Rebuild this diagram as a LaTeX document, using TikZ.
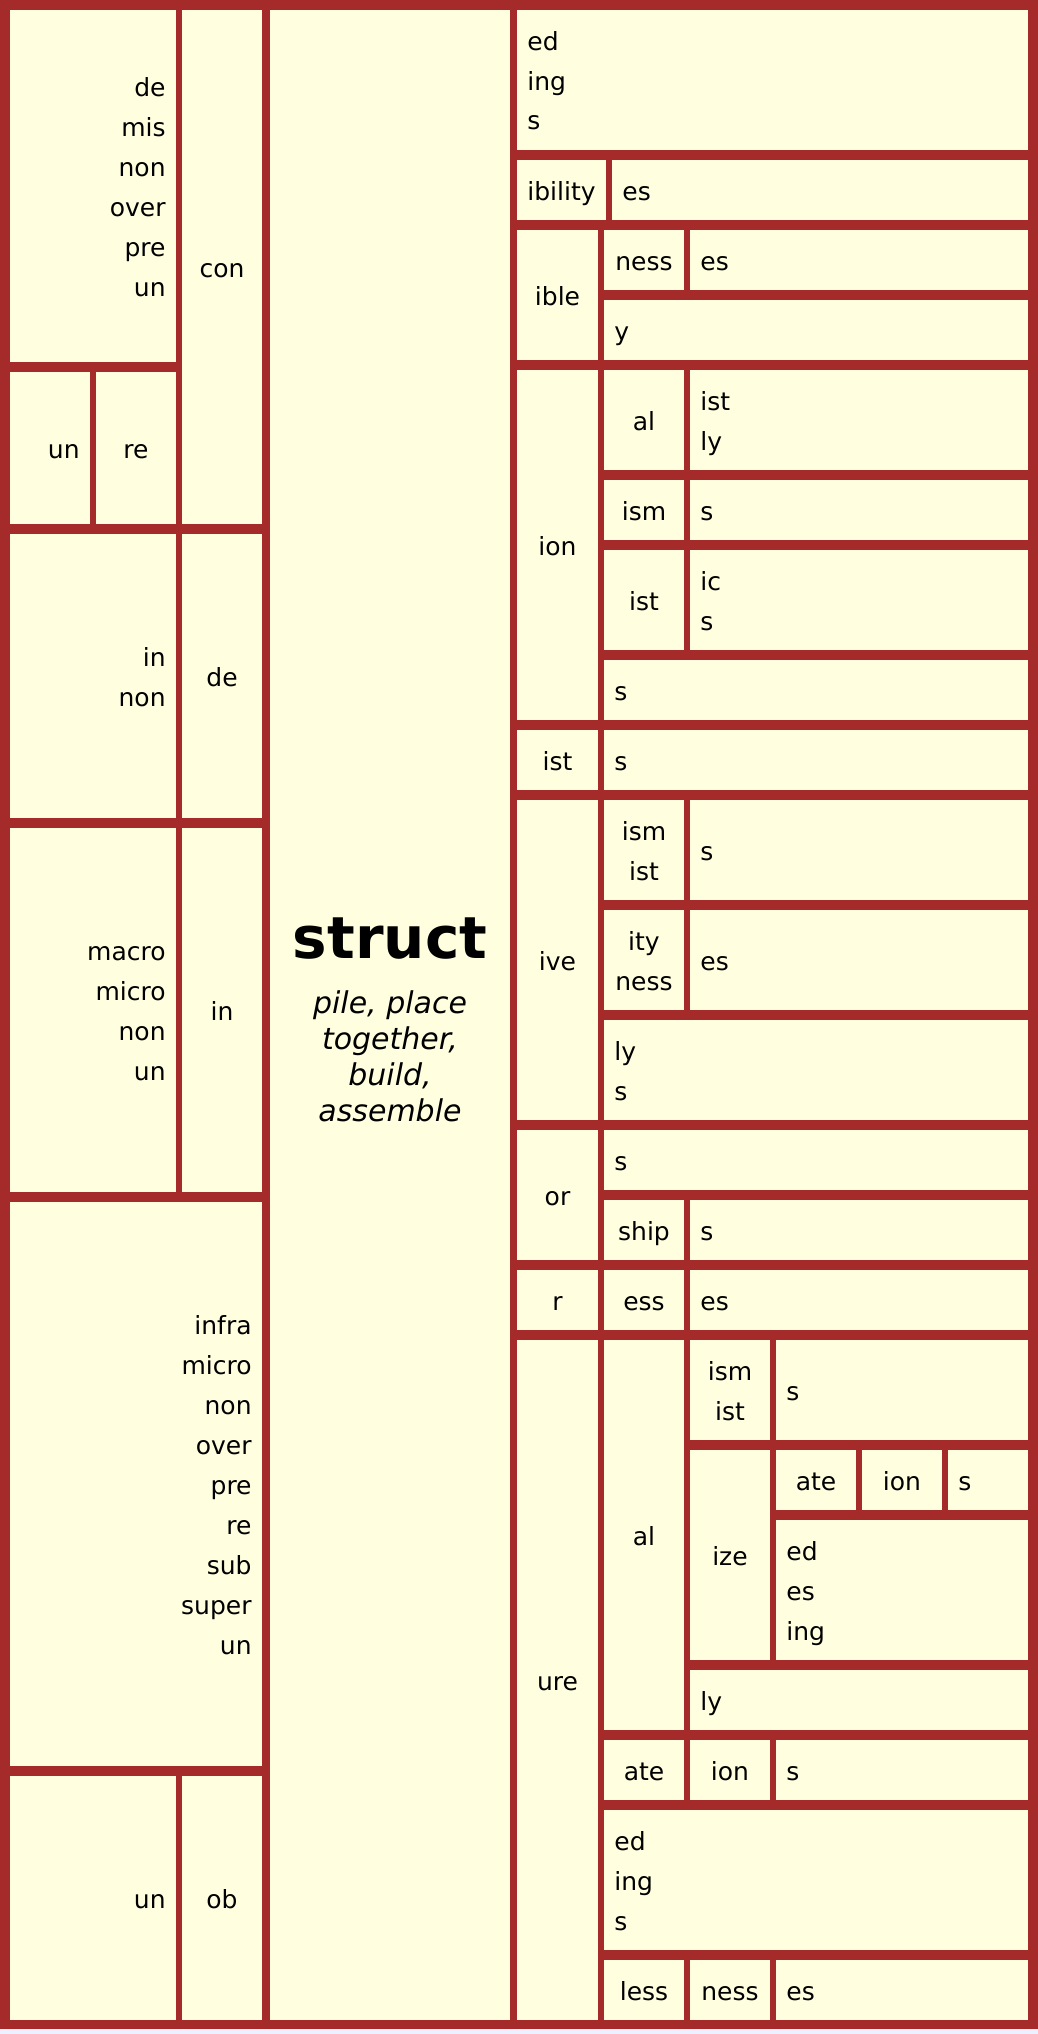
\documentclass[tikz,border=0pt]{standalone}
\usepackage{fontspec}
\setmainfont{DejaVu Sans}

\definecolor{rim}{RGB}{165,42,42}
\definecolor{paper}{RGB}{255,255,224}
\definecolor{pagebg}{RGB}{238,240,255}

% one table cell: name, x1, y1, x2, y2, text (coordinates in pixels)
\newcommand{\lcell}[6]{%
  \fill[paper] (#2,#3) rectangle (#4,#5);
  \node[celltext,anchor=west] (#1) at ({#2+10},{(#3+#5)/2}) {\begin{tabular}{@{}l@{}}#6\end{tabular}};}
\newcommand{\rcell}[6]{%
  \fill[paper] (#2,#3) rectangle (#4,#5);
  \node[celltext,anchor=east] (#1) at ({#4-10},{(#3+#5)/2}) {\begin{tabular}{@{}r@{}}#6\end{tabular}};}
\newcommand{\ccell}[6]{%
  \fill[paper] (#2,#3) rectangle (#4,#5);
  \node[celltext] (#1) at ({(#2+#4)/2},{(#3+#5)/2}) {\begin{tabular}{@{}c@{}}#6\end{tabular}};}

\begin{document}
\begin{tikzpicture}[x=0.5pt,y=-0.5pt,
  every node/.style={inner sep=0pt,font=\fontsize{12.5}{20}\selectfont},
  celltext/.style={yshift=-1pt}]
\useasboundingbox (0,0) rectangle (1038,2034);
\fill[rim] (0,0) rectangle (1038,2029);
\fill[pagebg] (0,2029) rectangle (1038,2034);
% prefixes
\rcell{conpre}{10}{10}{176}{362}{de\\mis\\non\\over\\pre\\un}
\rcell{conun}{10}{372}{90}{524}{un}
\ccell{conre}{96}{372}{176}{524}{re}
\ccell{con}{182}{10}{262}{524}{con}
\rcell{depre}{10}{534}{176}{818}{in\\non}
\ccell{de}{182}{534}{262}{818}{de}
\rcell{inpre}{10}{828}{176}{1192}{macro\\micro\\non\\un}
\ccell{in}{182}{828}{262}{1192}{in}
\rcell{barepre}{10}{1202}{262}{1766}{infra\\micro\\non\\over\\pre\\re\\sub\\super\\un}
\rcell{obun}{10}{1776}{176}{2020}{un}
\ccell{ob}{182}{1776}{262}{2020}{ob}
% root
\fill[paper] (270,10) rectangle (510,2020);
\node[anchor=base,font=\bfseries\fontsize{29}{34}\selectfont] (root) at (390,958) {struct};
\node[anchor=north,font=\itshape\fontsize{15}{18}\selectfont] (gloss) at (390,987.8)
  {\begin{tabular}{@{}c@{}}pile, place\\together,\\build,\\assemble\end{tabular}};
% suffixes
\lcell{verb}{517}{10}{1028}{150}{ed\\ing\\s}
\ccell{ibility}{517}{160}{606}{220}{ibility}
\lcell{ibilityes}{612}{160}{1028}{220}{es}
\ccell{ible}{517}{230}{598}{360}{ible}
\ccell{ibleness}{604}{230}{684}{290}{ness}
\lcell{iblenesses}{690}{230}{1028}{290}{es}
\lcell{ibley}{604}{300}{1028}{360}{y}
\ccell{ion}{517}{370}{598}{720}{ion}
\ccell{ional}{604}{370}{684}{470}{al}
\lcell{ionalend}{690}{370}{1028}{470}{ist\\ly}
\ccell{ionism}{604}{480}{684}{540}{ism}
\lcell{ionisms}{690}{480}{1028}{540}{s}
\ccell{ionist}{604}{550}{684}{650}{ist}
\lcell{ionistend}{690}{550}{1028}{650}{ic\\s}
\lcell{ions}{604}{660}{1028}{720}{s}
\ccell{ist}{517}{730}{598}{790}{ist}
\lcell{ists}{604}{730}{1028}{790}{s}
\ccell{ive}{517}{800}{598}{1120}{ive}
\ccell{iveism}{604}{800}{684}{900}{ism\\ist}
\lcell{iveisms}{690}{800}{1028}{900}{s}
\ccell{iveity}{604}{910}{684}{1010}{ity\\ness}
\lcell{iveityes}{690}{910}{1028}{1010}{es}
\lcell{iveend}{604}{1020}{1028}{1120}{ly\\s}
\ccell{or}{517}{1130}{598}{1260}{or}
\lcell{ors}{604}{1130}{1028}{1190}{s}
\ccell{orship}{604}{1200}{684}{1260}{ship}
\lcell{orships}{690}{1200}{1028}{1260}{s}
\ccell{r}{517}{1270}{598}{1330}{r}
\ccell{ress}{604}{1270}{684}{1330}{ess}
\lcell{resses}{690}{1270}{1028}{1330}{es}
\ccell{ure}{517}{1340}{598}{2020}{ure}
\ccell{ureal}{604}{1340}{684}{1730}{al}
\ccell{urealism}{690}{1340}{770}{1440}{ism\\ist}
\lcell{urealisms}{776}{1340}{1028}{1440}{s}
\ccell{urealize}{690}{1450}{770}{1660}{ize}
\ccell{urealizate}{776}{1450}{856}{1510}{ate}
\ccell{urealizion}{862}{1450}{942}{1510}{ion}
\lcell{urealizions}{948}{1450}{1028}{1510}{s}
\lcell{urealizend}{776}{1520}{1028}{1660}{ed\\es\\ing}
\lcell{urealy}{690}{1670}{1028}{1730}{ly}
\ccell{ureate}{604}{1740}{684}{1800}{ate}
\ccell{ureion}{690}{1740}{770}{1800}{ion}
\lcell{ureions}{776}{1740}{1028}{1800}{s}
\lcell{ureend}{604}{1810}{1028}{1950}{ed\\ing\\s}
\ccell{ureless}{604}{1960}{684}{2020}{less}
\ccell{urelessness}{690}{1960}{770}{2020}{ness}
\lcell{urelessnesses}{776}{1960}{1028}{2020}{es}
\end{tikzpicture}
\end{document}
